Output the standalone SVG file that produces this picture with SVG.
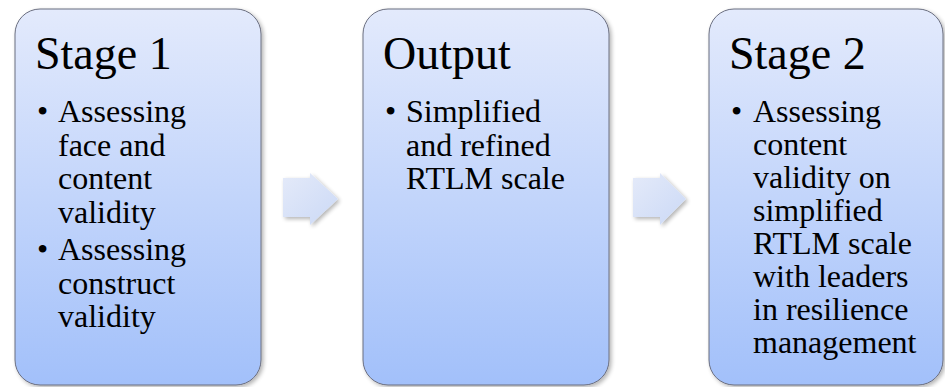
<svg xmlns="http://www.w3.org/2000/svg" width="945" height="387" viewBox="0 0 945 387">
<defs>
<linearGradient id="boxg" x1="0" y1="0" x2="0" y2="1">
<stop offset="0" stop-color="#e3eafc"/>
<stop offset="1" stop-color="#a2c0fa"/>
</linearGradient>
<linearGradient id="arrg" x1="0" y1="0" x2="1" y2="1">
<stop offset="0" stop-color="#e4eaf9"/>
<stop offset="1" stop-color="#cbd9f6"/>
</linearGradient>
<filter id="sh" x="-10%" y="-10%" width="120%" height="120%">
<feGaussianBlur in="SourceAlpha" stdDeviation="2"/>
<feOffset dx="2" dy="2"/>
<feComponentTransfer><feFuncA type="linear" slope="0.3"/></feComponentTransfer>
<feMerge><feMergeNode/><feMergeNode in="SourceGraphic"/></feMerge>
</filter>
</defs>
<style>
.box{fill:url(#boxg);stroke:#6a6e80;stroke-width:1;filter:url(#sh)}
.arr{fill:url(#arrg);filter:url(#sh)}
.t{font-family:"Liberation Serif","Times New Roman",serif;fill:#000}
.title{font-size:46px}
.body{font-size:32px}
</style>
<rect width="945" height="387" fill="#ffffff"/>
<g id="connectors">
<path class="arr" d="M283,178 H310 V173 L338,199 L310,225 V217 H283 Z"/>
<path class="arr" d="M633,178 H660 V173 L686,199 L660,225 V217 H633 Z"/>
</g>
<g id="stage1">
<rect class="box" x="15" y="9" width="246" height="376" rx="25"/>
<text class="t title" x="35" y="69">Stage 1</text>
<text class="t body" x="37" y="122">•</text>
<text class="t body" x="58" y="122">Assessing</text>
<text class="t body" x="58" y="155.5">face and</text>
<text class="t body" x="58" y="189">content</text>
<text class="t body" x="58" y="222.5">validity</text>
<text class="t body" x="37" y="260">•</text>
<text class="t body" x="58" y="260">Assessing</text>
<text class="t body" x="58" y="293.5">construct</text>
<text class="t body" x="58" y="327">validity</text>
</g>
<g id="output">
<rect class="box" x="363" y="9" width="246" height="376" rx="25"/>
<text class="t title" x="383" y="69">Output</text>
<text class="t body" x="385" y="122">•</text>
<text class="t body" x="406" y="122">Simplified</text>
<text class="t body" x="406" y="155.5">and refined</text>
<text class="t body" x="406" y="189">RTLM scale</text>
</g>
<g id="stage2">
<rect class="box" x="709" y="9" width="234" height="376" rx="25"/>
<text class="t title" x="729" y="69">Stage 2</text>
<text class="t body" x="731" y="122">•</text>
<text class="t body" x="753" y="122">Assessing</text>
<text class="t body" x="753" y="155">content</text>
<text class="t body" x="753" y="188">validity on</text>
<text class="t body" x="753" y="221">simplified</text>
<text class="t body" x="753" y="254">RTLM scale</text>
<text class="t body" x="753" y="287">with leaders</text>
<text class="t body" x="753" y="320">in resilience</text>
<text class="t body" x="753" y="353">management</text>
</g>
</svg>
